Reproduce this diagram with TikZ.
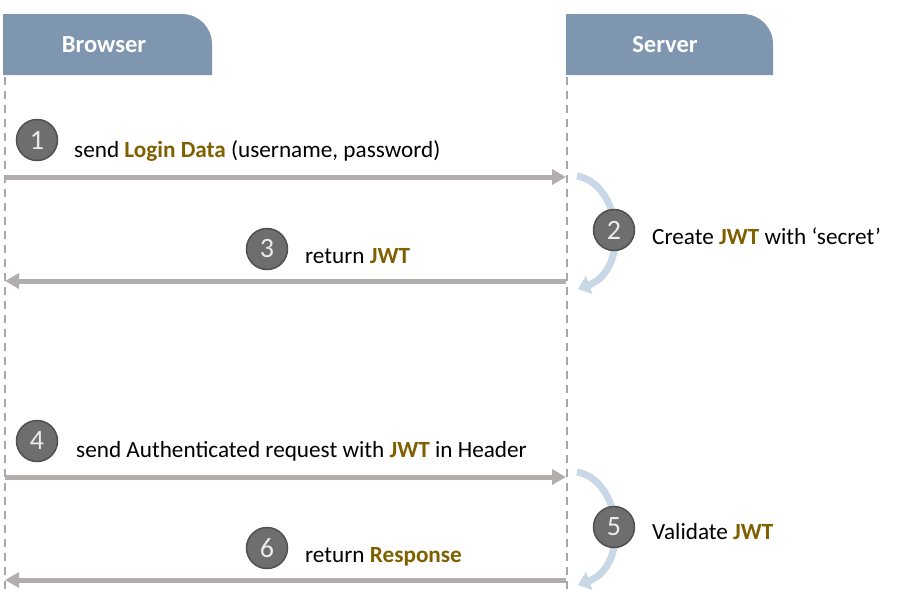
\documentclass[tikz,border=0pt]{standalone}
\usepackage{fontspec}
\setmainfont{Carlito}
\usetikzlibrary{arrows.meta}
\definecolor{hdr}{HTML}{7F96B0}
\definecolor{gold}{HTML}{7F6000}
\definecolor{arr}{HTML}{B3AEAE}
\definecolor{lifeline}{HTML}{A8A8A8}
\definecolor{numfill}{HTML}{6E6E6E}
\definecolor{numdraw}{HTML}{505050}
\definecolor{loopc}{HTML}{C9D8E6}
\tikzset{
  header/.style={fill=hdr},
  hdrtext/.style={text=white,font=\fontsize{24.5}{28}\selectfont\bfseries},
  lifel/.style={draw=lifeline,line width=2pt,dash pattern=on 8pt off 6pt},
  msg/.style={draw=arr,line width=5pt,-{Triangle[length=14pt,width=15pt]}},
  loop/.style={draw=loopc,line width=7pt,-{Triangle[length=12pt,width=19pt]}},
  num/.style={circle,fill=numfill,draw=numdraw,line width=1.5pt,minimum size=41pt,inner sep=0pt,text=white!92!black,font=\fontsize{28}{30}\selectfont},
  lbl/.style={anchor=base west,inner sep=0pt,font=\fontsize{23.2}{27}\selectfont},
  hl/.style={text=gold,font=\bfseries}
}
\begin{document}
\begin{tikzpicture}[x=1pt,y=-1pt]
\useasboundingbox (0,0) rectangle (898,595);
% headers
\fill[header] (3,75) -- (3,14) [rounded corners=30pt] -- (212,14) [sharp corners] -- (212,75) -- cycle;
\fill[header] (566,75) -- (566,14) [rounded corners=30pt] -- (773,14) [sharp corners] -- (773,75) -- cycle;
\node[hdrtext] (browser) at (104,45) {Browser};
\node[hdrtext] (server) at (665,45) {Server};
% lifelines
\coordinate (b0) at (5,77);
\coordinate (b1) at (5,595);
\coordinate (s0) at (567,77);
\coordinate (s1) at (567,595);
\draw[lifel] (b0) -- (b1);
\draw[lifel] (s0) -- (s1);
% message end points
\coordinate (m1a) at (5,177);  \coordinate (m1b) at (566,177);
\coordinate (m3a) at (566,281); \coordinate (m3b) at (5,281);
\coordinate (m4a) at (5,477);  \coordinate (m4b) at (566,477);
\coordinate (m6a) at (566,580); \coordinate (m6b) at (5,580);
\draw[msg] (m1a) -- (m1b);
\draw[msg] (m3a) -- (m3b);
\draw[msg] (m4a) -- (m4b);
\draw[msg] (m6a) -- (m6b);
% self loops
\coordinate (l2a) at (577,176);
\coordinate (l2b) at (578,289);
\coordinate (l5a) at (577,472);
\coordinate (l5b) at (578,585);
\draw[loop] (l2a) .. controls (622,184) and (630,270) .. (l2b);
\draw[loop] (l5a) .. controls (622,480) and (630,566) .. (l5b);
% numbers
\node[num] (n1) at (37,140) {1};
\node[num] (n2) at (614,230) {2};
\node[num] (n3) at (267,249) {3};
\node[num] (n4) at (37,441) {4};
\node[num] (n5) at (614,527) {5};
\node[num] (n6) at (267,548) {6};
% labels
\node[lbl] (t1) at (74,157) {send {\color{gold}\bfseries Login Data} (username, password)};
\node[lbl] (t2) at (652,244) {Create {\color{gold}\bfseries JWT} with ‘secret’};
\node[lbl] (t3) at (305,263) {return {\color{gold}\bfseries JWT}};
\node[lbl] (t4) at (76,457) {send Authenticated request with {\color{gold}\bfseries JWT} in Header};
\node[lbl] (t5) at (652,539) {Validate {\color{gold}\bfseries JWT}};
\node[lbl] (t6) at (305,562) {return {\color{gold}\bfseries Response}};
\end{tikzpicture}
\end{document}
